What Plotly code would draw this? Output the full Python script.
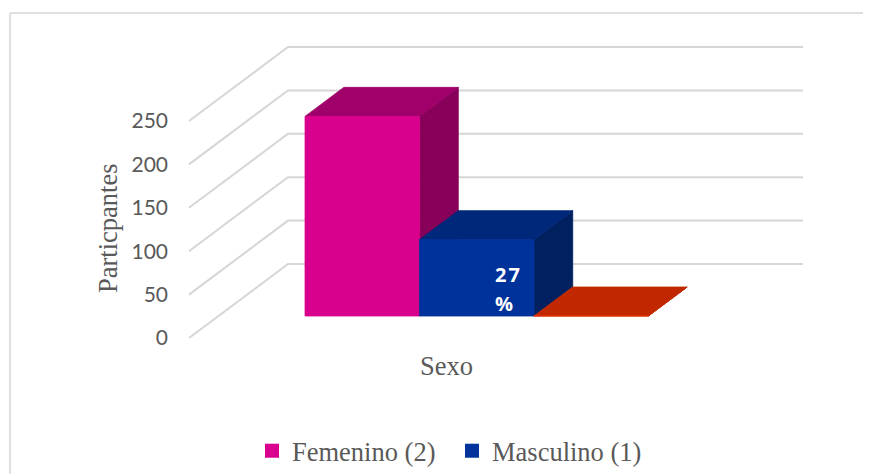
import plotly.graph_objects as go

# ---- data ----
category = "Sexo"
series_names = ["Femenino (2)", "Masculino (1)", ""]
series_values = [230, 88, 0]
tick_values = [0, 50, 100, 150, 200, 250]
bar_label_lines = ["2\u200a7", "%"]
axis_title = "Particpantes"

# ---- colours ----
front = ["#D9008D", "#00329B", "#E8380F"]
top = ["#A0006A", "#00287A", "#C12800"]
side = ["#87005A", "#00205F", "#C12800"]
GRID = "#D6D6D6"
TEXT = "#595959"
SERIF = "Liberation Serif"
SERIF_SIZE = 26.5

# ---- page layout: the page body adds an 8 px margin ----
OFF = 8
W, H = 871 - OFF, 474 - OFF
L, BOTTOM = 172, 338   # plot area limits in page pixels
B = 474 - BOTTOM

# ---- oblique projection: category unit, value unit, depth 0..1 ----
PX_CAT = 515
PX_VAL = 0.868
ORIGIN_X = 189
DX = 99 / PX_CAT
DY = 74 / PX_VAL
D0, D1 = 0.297, 0.689
GAP = 0.757
BAR = 1 / (len(series_values) + 1.5)


def proj(c, v, d):
    return c + DX * d, v + DY * d


def poly(pts):
    p = [proj(*q) for q in pts + pts[:1]]
    return [a for a, _ in p], [b for _, b in p]


fig = go.Figure()


def grid(pts):
    xs, ys = zip(*[proj(*q) for q in pts])
    fig.add_trace(go.Scatter(x=xs, y=ys, mode="lines", showlegend=False, hoverinfo="skip",
                             cliponaxis=False, line=dict(color=GRID, width=2)))


for t in tick_values:
    grid([(0, t, 0), (0, t, 1), (1, t, 1)])

for i, (val, nm) in enumerate(zip(series_values, series_names)):
    c0 = GAP * BAR + i * BAR
    c1 = c0 + BAR
    faces = [
        ([(c1, 0, D0), (c1, 0, D1), (c1, val, D1), (c1, val, D0)], side[i]),
        ([(c0, val, D0), (c1, val, D0), (c1, val, D1), (c0, val, D1)], top[i]),
        ([(c0, 0, D0), (c1, 0, D0), (c1, val, D0), (c0, val, D0)], front[i]),
    ]
    for pts, col in faces:
        xs, ys = poly(pts)
        fig.add_trace(go.Scatter(x=xs, y=ys, mode="lines", fill="toself", fillcolor=col,
                                 line=dict(color=col, width=0.8), showlegend=False,
                                 hoverinfo="skip", cliponaxis=False))
    if nm:
        fig.add_trace(go.Scatter(x=[None], y=[None], mode="markers", name=nm,
                                 marker=dict(symbol="square", size=14, color=front[i])))

# data label of the second bar, kept inside its front face
lx = GAP * BAR + 1.765 * BAR
for line, v, off in zip(bar_label_lines, [series_values[1] * 0.54, series_values[1] * 0.16], [0, -3]):
    x, y = proj(lx, v, D0)
    fig.add_annotation(x=x, y=y, text=line, showarrow=False, xshift=off,
                       font=dict(family="Open Sans", size=20, color="white", weight="bold"))

fig.update_xaxes(range=[(L - ORIGIN_X) / PX_CAT, (W + OFF - ORIGIN_X) / PX_CAT],
                 tickvals=[0.5], ticktext=[category], ticks="outside", ticklen=4,
                 tickcolor="rgba(0,0,0,0)", showgrid=False, showline=False, zeroline=False,
                 tickfont=dict(family=SERIF, size=SERIF_SIZE, color=TEXT))
fig.update_yaxes(range=[0, (BOTTOM - OFF) / PX_VAL], tickvals=tick_values, showgrid=False,
                 showline=False, zeroline=False, ticks="", ticklabelstandoff=3,
                 tickfont=dict(family="Lato", size=21, color=TEXT))


def px(x):
    return (x - L) / (W + OFF - L)


def py(y):
    return (BOTTOM - y) / (BOTTOM - OFF)


fig.add_annotation(xref="paper", yref="paper", x=px(108), y=py(228), text=axis_title, textangle=-90,
                   xanchor="center", yanchor="middle", showarrow=False,
                   font=dict(family=SERIF, size=SERIF_SIZE, color=TEXT))

for x0, y0, x1, y1 in [(10, 13, 870, 13), (10, 13, 10, 474)]:
    fig.add_shape(type="line", xref="paper", yref="paper", x0=px(x0), y0=py(y0), x1=px(x1), y1=py(y1),
                  line=dict(color=GRID, width=1.5))

fig.update_layout(width=W, height=H, autosize=False, plot_bgcolor="white", paper_bgcolor="white",
                  margin=dict(l=L - OFF, r=0, t=0, b=B, autoexpand=False),
                  legend=dict(orientation="h", x=px(252), y=py(427), xanchor="left", yanchor="top",
                              entrywidth=155, entrywidthmode="pixels",
                              font=dict(family=SERIF, size=SERIF_SIZE, color=TEXT), itemsizing="trace",
                              bgcolor="rgba(0,0,0,0)"))
fig.write_html("out.html")
